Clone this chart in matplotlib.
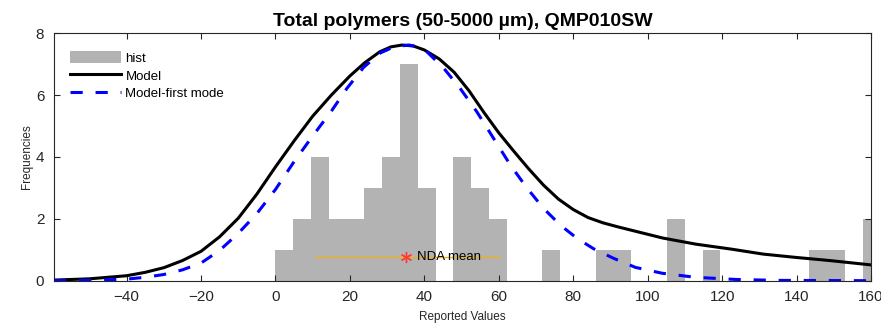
"""Histogram with model fit (QMP010SW)"""

import numpy as np
import matplotlib
matplotlib.use("Agg")
import matplotlib.pyplot as plt
from matplotlib.patches import Patch
from matplotlib.lines import Line2D

plt.rcParams['font.family'] = ['Liberation Sans', 'DejaVu Sans']

# Histogram: bins start at 0, fixed width
bin_start = 0.0
bin_width = 4.78
counts = [1, 2, 4, 2, 2, 3, 4, 7, 3, 0, 4, 3, 2, 0, 0, 1, 0, 0, 1, 1,
          0, 0, 2, 0, 1, 0, 0, 0, 0, 0, 1, 1, 0, 2]

# Model curve
model_x = [-59.5, -50, -40, -35, -30, -25, -20, -15, -10, -5, 0, 5, 10, 15,
           20, 24, 28, 31, 34, 37, 40, 44, 48, 52, 56, 60, 64, 68, 72, 76,
           80, 84, 88, 92, 96, 100, 104, 113, 122.5, 131, 140, 149, 160]
model_y = [0.02, 0.06, 0.16, 0.27, 0.42, 0.65, 0.95, 1.42, 2.02, 2.80, 3.68,
           4.52, 5.32, 6.00, 6.62, 7.05, 7.40, 7.56, 7.62, 7.59, 7.46, 7.17,
           6.74, 6.14, 5.44, 4.78, 4.19, 3.62, 3.09, 2.64, 2.30, 2.04, 1.87,
           1.74, 1.62, 1.50, 1.38, 1.18, 1.02, 0.86, 0.75, 0.65, 0.51]

# Model - first mode
first_x = [-59.5, -50, -40, -35, -30, -25, -20, -15, -10, -5, 0, 5, 10, 15,
           19.2, 23.7, 28.1, 32, 35.9, 38.5, 40.7, 45.2, 49.6, 54.1, 58.6,
           63.1, 67.6, 72, 76.5, 81, 85.5, 90.9, 96.7, 103.9, 112.8, 123.6,
           135, 160]
first_y = [0.0, 0.01, 0.05, 0.11, 0.20, 0.35, 0.57, 0.98, 1.53, 2.17, 2.95,
           3.85, 4.68, 5.48, 6.22, 6.90, 7.36, 7.57, 7.62, 7.55, 7.40, 6.87,
           6.22, 5.46, 4.60, 3.74, 2.99, 2.34, 1.80, 1.37, 1.03, 0.72, 0.43,
           0.24, 0.11, 0.04, 0.01, 0.0]

# NDA mean and its range
nda_mean = 35.1
nda_y = 0.78
nda_range = [10.5, 60.2]

AXIS_COLOR = "#262626"
BLUE_DASH = (0, (4, 4.2))

fig = plt.figure(figsize=(8.81, 3.23), dpi=100)
ax = fig.add_axes([0.0613, 0.131, 0.9274, 0.766])

edges = bin_start + bin_width * np.arange(len(counts) + 1)
ax.bar(edges[:-1], counts, width=bin_width, align='edge',
       color='#b3b3b3', edgecolor='none', zorder=1)

ax.plot(model_x, model_y, color='black', lw=2.2, zorder=3,
        solid_joinstyle='round')
ax.plot(first_x, first_y, color='#0000ff', lw=2.2, ls=BLUE_DASH, zorder=3)

ax.plot(nda_range, [nda_y, nda_y], color='#EDB120', lw=1, zorder=2)
ax.plot([nda_mean], [nda_y], marker=(6, 2, 0), color='#ff3b3b', ms=8,
        markeredgewidth=1.0, ls='none', zorder=4)
ax.text(nda_mean + 2.8, nda_y, "NDA mean", fontsize=9.5, va='center',
        ha='left', color='black', zorder=4)

ax.set_xlim(-59.5, 160)
ax.set_ylim(0, 8)
ax.set_xticks(np.arange(-40, 161, 20))
ax.set_yticks(np.arange(0, 9, 2))

ax.tick_params(direction='in', top=True, right=True, length=4, width=0.8,
               labelsize=11, colors=AXIS_COLOR, pad=7)
for s in ax.spines.values():
    s.set_color(AXIS_COLOR)
    s.set_linewidth(0.8)

ax.set_title("Total polymers (50-5000 µm), QMP010SW", fontsize=14,
             fontweight='bold', pad=5)
ax.set_xlabel("Reported Values", fontsize=8.5, color=AXIS_COLOR, labelpad=5)
ax.set_ylabel("Frequencies", fontsize=8.5, color=AXIS_COLOR, labelpad=2)

handles = [Patch(facecolor='#b3b3b3', edgecolor='none'),
           Line2D([], [], color='black', lw=2.2),
           Line2D([], [], color='#0000ff', lw=2.2, ls=BLUE_DASH)]
ax.legend(handles, ["hist", "Model", "Model-first mode"], loc='upper left',
          bbox_to_anchor=(0.005, 0.975), frameon=False, fontsize=9.5,
          handlelength=3.9, handleheight=1.0, handletextpad=0.3,
          labelspacing=0.33)

fig.savefig("out.png", dpi=100)
